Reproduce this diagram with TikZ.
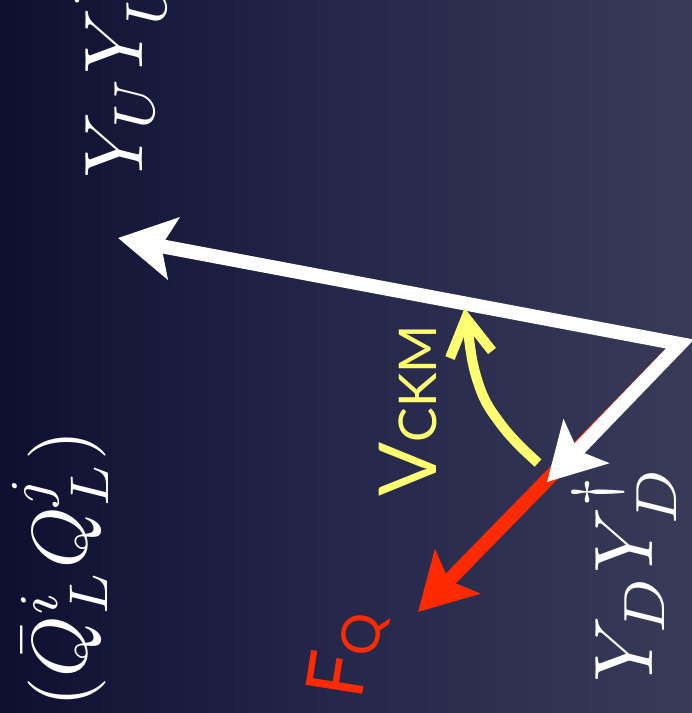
\documentclass[tikz,border=0pt]{standalone}
\usepackage{fontspec}
\newfontfamily\gill{Lato}
\usetikzlibrary{arrows.meta}
\definecolor{bgA}{HTML}{02021A}
\definecolor{bgM}{HTML}{0E0F30}
\definecolor{bgB}{HTML}{25274B}
\definecolor{bgC}{HTML}{4C4E65}
\definecolor{vred}{HTML}{FF2A00}
\definecolor{vyel}{HTML}{FFFF72}
\pgfdeclarehorizontalshading{bgshade}{100bp}{color(0bp)=(bgA); color(25bp)=(bgM); color(50bp)=(bgB); color(100bp)=(bgC)}
\tikzset{
  vhead/.tip={Stealth[length=56pt,width=62pt,inset=12pt]},
  vec/.style={line width=14pt, line join=miter},
  mathlbl/.style={text=white, rotate=90, inner sep=0pt, anchor=base west},
  sanslbl/.style={inner sep=0pt, anchor=base west, font=\gill},
  curl/.style={draw=vyel, line width=10pt, line join=round}
}
\begin{document}
\begin{tikzpicture}[x=1pt,y=-1pt]
\useasboundingbox (0,0) rectangle (692,713);
\shade[shading=bgshade, shading angle=0] (0,0) rectangle (692,713);
% points
\coordinate (O) at (680,344);
\coordinate (U) at (118,238);
\coordinate (D) at (547,482);
\coordinate (F) at (418,612);
% red vector first, white vectors on top
\draw[vec, draw=vred, -vhead] (O) -- (F);
\draw[vec, draw=white, vhead-vhead] (U) -- (O) -- (D);
% yellow rotation arrow
\draw[curl, line cap=butt] plot[smooth, tension=0.6] coordinates {(538,463) (517,443) (500,423) (484,398) (473,364) (467,322)};
\coordinate (tipY) at (466,318);
\coordinate (armL) at (450,358);
\coordinate (armR) at (492,351);
\draw[curl, line join=miter] (armL) -- (tipY) -- (armR);
% labels
\node[mathlbl, scale=7.8] (qq) at (86,709) {$(\bar Q^i_L Q^j_L)$};
\node[mathlbl, scale=8.3] (yu) at (142,180) {$Y_U Y_U^\dagger$};
\node[mathlbl, scale=8.3] (yd) at (652,684) {$Y_D Y_D^\dagger$};
\node[sanslbl, rotate=90, text=vyel] (vckm) at (436,497) {\fontsize{80}{80}\selectfont V\fontsize{52}{52}\selectfont CKM};
\node[sanslbl, rotate=81, text=vred] (fq) at (361,702) {\fontsize{80}{80}\selectfont F\raisebox{-9pt}{\fontsize{53}{53}\selectfont Q}};
\end{tikzpicture}
\end{document}
